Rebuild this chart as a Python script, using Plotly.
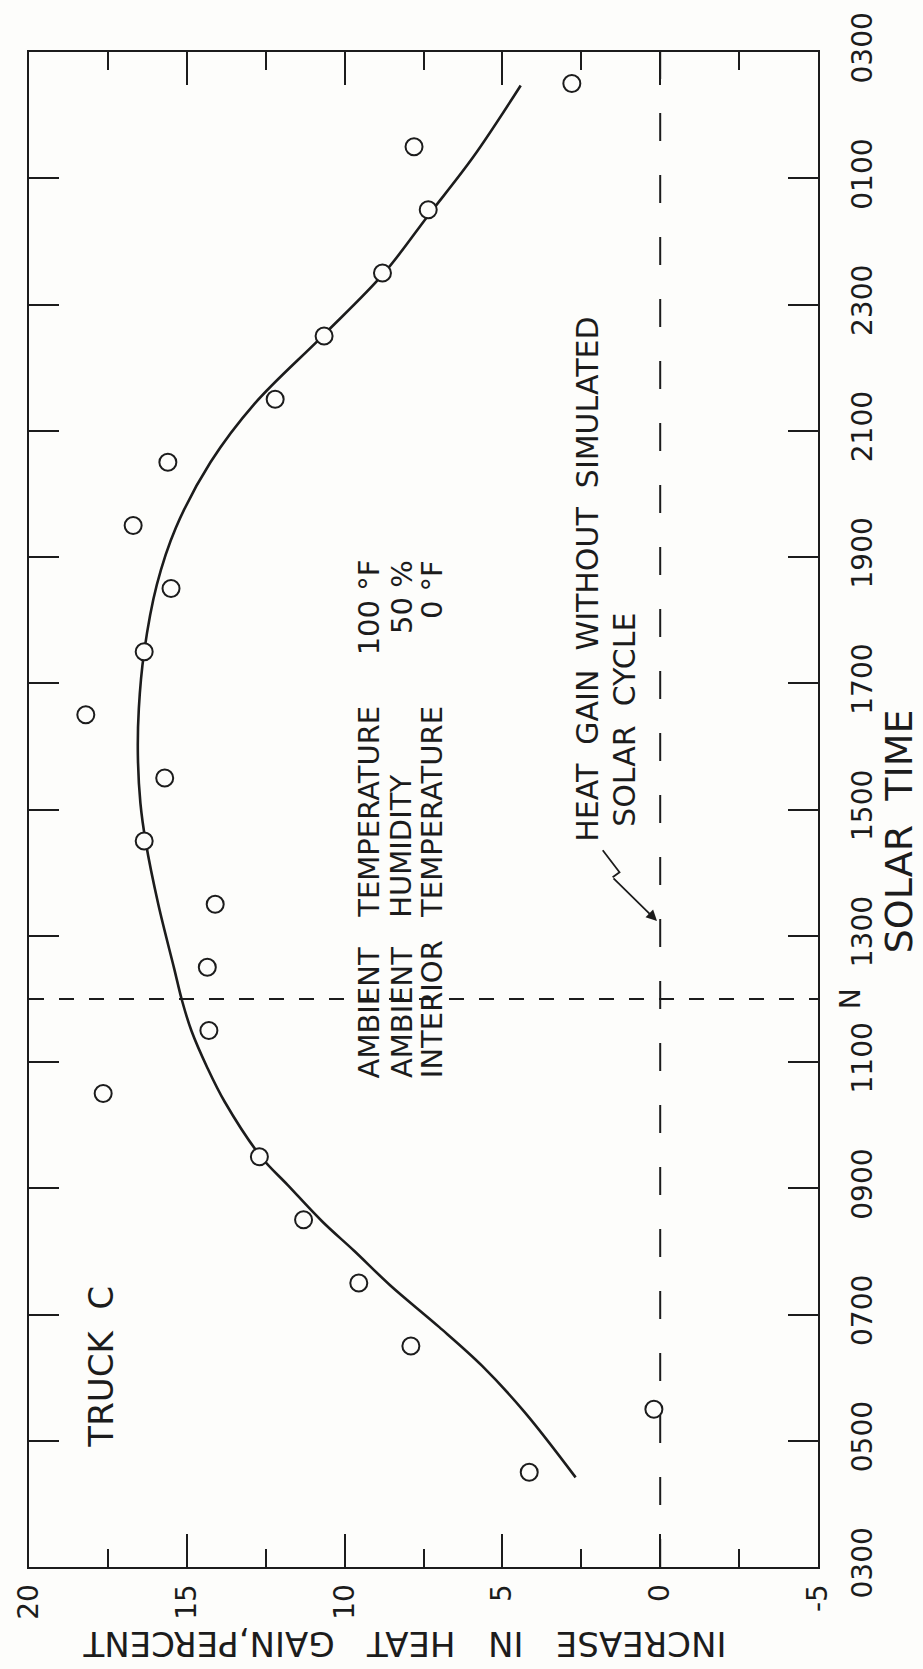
import plotly.graph_objects as go

# ---------------- data ----------------
# solar time in decimal hours on a continuous axis that runs 0300 -> 0300 next day (3 .. 27)
obs_time = [4.5, 5.5, 6.5, 7.5, 8.5, 9.5, 10.5, 11.5, 12.5, 13.5, 14.5, 15.5,
            16.5, 17.5, 18.5, 19.5, 20.5, 21.5, 22.5, 23.5, 24.5, 25.5, 26.5]
obs_gain = [4.15, 0.2, 7.9, 9.55, 11.3, 12.7, 17.65, 14.3, 14.35, 14.1, 16.35, 15.7,
            18.2, 16.35, 15.5, 16.7, 15.6, 12.2, 10.65, 8.8, 7.35, 7.8, 2.8]

# faired curve
curve_time = [4.42, 5.45, 6.19, 6.8, 7.46, 8.01, 8.47, 9.05, 9.5, 10.37, 10.91,
              11.49, 11.97, 12.48, 13.49, 14.48, 15.1, 15.85, 16.6, 17.5, 18.56,
              19.46, 20.5, 21.43, 22.5, 23.48, 24.41, 25.34, 26.47]
curve_gain = [2.68, 4.29, 5.65, 7.0, 8.55, 9.7, 10.7, 11.8, 12.65, 13.8, 14.35,
              14.85, 15.15, 15.4, 15.9, 16.3, 16.47, 16.55, 16.52, 16.35, 15.95,
              15.35, 14.25, 12.85, 10.7, 8.78, 7.35, 5.92, 4.42]

time_tickvals = [3, 5, 7, 9, 11, 13, 15, 17, 19, 21, 23, 25, 27]
time_ticktext = ["0300", "0500", "0700", "0900", "1100", "1300", "1500", "1700",
                 "1900", "2100", "2300", "0100", "0300"]
gain_tickvals = [20, 15, 10, 5, 0, -5]
gain_ticktext = ["20", "15", "10", "5", "0", "-5"]
gain_minor = [17.5, 12.5, 7.5, 2.5, -2.5]

cond_names1 = ["AMBIENT", "AMBIENT", "INTERIOR"]
cond_names2 = ["TEMPERATURE", "HUMIDITY", "TEMPERATURE"]
cond_values = ["100 °F", "50 %", "0 °F"]

# ---------------- layout geometry (pixels) ----------------
W, H = 923, 1669
L, R, T, B = 19, 818, 45, 1567
INK = "#1c1c1c"
BG = "#fdfdfb"
FONT = "DejaVu Sans"


def px(x, y):
    """pixel position -> paper coordinates"""
    return (x - L) / (R - L), (B - y) / (B - T)


fig = go.Figure()

fig.add_trace(go.Scatter(
    x=curve_gain, y=curve_time, mode="lines",
    line=dict(color=INK, width=2.6, shape="spline", smoothing=1.0),
    hoverinfo="skip"))

fig.add_trace(go.Scatter(
    x=obs_gain, y=obs_time, mode="markers",
    marker=dict(symbol="circle", size=17, color=BG,
                line=dict(color=INK, width=2))))

# reference dashed lines: zero gain and solar noon
fig.add_shape(type="line", xref="x", yref="paper", x0=0, x1=0, y0=0, y1=1,
              line=dict(color=INK, width=2, dash="28px,34px"))
fig.add_shape(type="line", xref="paper", yref="y", x0=0, x1=1, y0=12, y1=12,
              line=dict(color=INK, width=2, dash="15px,15px"))

ann = []


def text(s, x, y, size, angle=-90, xa="center", ya="middle", align="left"):
    ax_, ay_ = px(x, y)
    ann.append(dict(text=s, x=ax_, y=ay_, xref="paper", yref="paper",
                    showarrow=False, textangle=angle, xanchor=xa, yanchor=ya,
                    align=align, font=dict(family=FONT, size=size, color=INK)))


text("TRUCK\u00a0\u00a0C", 91, 1449, 34, ya="bottom")

line_x = [363, 396, 427]
for i in range(3):
    text(cond_names1[i], line_x[i], 1078, 29, ya="bottom")
    text(cond_names2[i], line_x[i], 917, 29, ya="bottom")
    text(cond_values[i], line_x[i], 553, 29, ya="top")

text("HEAT\u00a0\u00a0GAIN\u00a0\u00a0WITHOUT\u00a0\u00a0SIMULATED", 585, 840, 30, ya="bottom")
text("SOLAR\u00a0\u00a0CYCLE", 622, 825, 30, ya="bottom")

# "N" (noon) mark beside the time axis
text("N", 851, 996, 28)

# axis titles
text("SOLAR\u00a0\u00a0TIME", 900, 828, 38)
text("INCREASE\u00a0\u00a0\u00a0IN\u00a0\u00a0\u00a0HEAT\u00a0\u00a0\u00a0GAIN,PERCENT", 400, 1645, 34, angle=180)

# lightning-style leader from the note to the zero line
p0 = px(600, 847)
p1 = px(617, 869)
p2 = px(610, 874)
fig.add_shape(type="path", xref="paper", yref="paper",
              path=f"M {p0[0]} {p0[1]} L {p1[0]} {p1[1]} L {p2[0]} {p2[1]}",
              line=dict(color=INK, width=1.8))
tip = px(655, 918)
ann.append(dict(text="", x=tip[0], y=tip[1], xref="paper", yref="paper",
                showarrow=True, ax=610 - 655, ay=874 - 918, axref="pixel", ayref="pixel",
                arrowhead=2, arrowsize=1.2, arrowwidth=1.8, arrowcolor=INK, standoff=0))

fig.update_layout(
    width=W, height=H,
    margin=dict(l=L, r=W - R, t=T, b=H - B, pad=0),
    paper_bgcolor=BG, plot_bgcolor=BG,
    showlegend=False,
    font=dict(family=FONT, color=INK),
    annotations=ann,
)

fig.update_xaxes(
    range=[20, -5], tickvals=gain_tickvals, ticktext=gain_ticktext,
    ticks="inside", ticklen=33, tickwidth=2, tickcolor=INK,
    minor=dict(tickvals=gain_minor, ticks="inside", ticklen=18,
               tickwidth=2, tickcolor=INK, showgrid=False),
    showline=True, linewidth=2, linecolor=INK, mirror="ticks",
    showgrid=False, zeroline=False, tickangle=-90,
    tickfont=dict(family=FONT, size=28, color=INK), ticklabelstandoff=4,
)
fig.update_yaxes(
    range=[3, 27], tickvals=time_tickvals, ticktext=time_ticktext, side="right",
    ticks="inside", ticklen=30, tickwidth=2, tickcolor=INK,
    showline=True, linewidth=2, linecolor=INK, mirror="ticks",
    showgrid=False, zeroline=False, tickangle=-90,
    tickfont=dict(family=FONT, size=28, color=INK), ticklabelstandoff=18,
)

fig.write_html(
    "out.html",
    config={"displayModeBar": False},
    post_script="document.body.style.margin='0';document.body.style.overflow='hidden';",
)
